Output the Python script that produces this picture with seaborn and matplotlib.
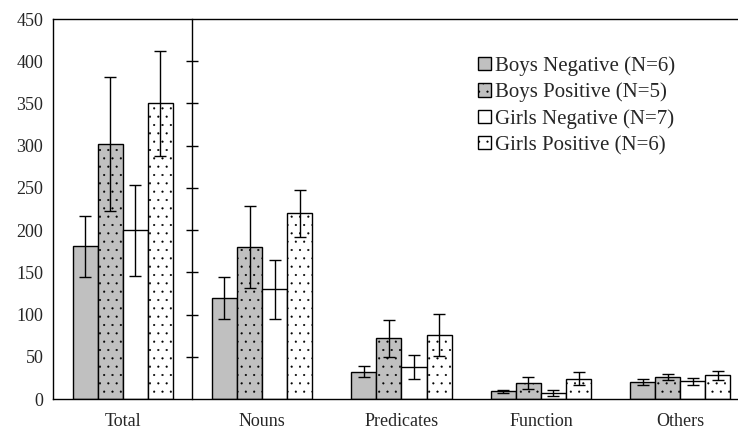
import numpy as np
import pandas as pd
import matplotlib
matplotlib.use('Agg')
import matplotlib.pyplot as plt
from matplotlib.patches import Patch
import seaborn as sns

# categories on the x axis and the four groups
categories = ['Total', 'Nouns', 'Predicates', 'Function', 'Others']
groups = ['Boys Negative (N=6)', 'Boys Positive (N=5)',
          'Girls Negative (N=7)', 'Girls Positive (N=6)']

# mean values
boys_neg = [181, 120, 32, 9, 20]
boys_pos = [302, 180, 72, 19, 26.5]
girls_neg = [200, 130, 38, 7, 21]
girls_pos = [350, 220, 76, 24, 28]

# error bar half-lengths
boys_neg_err = [36, 25, 6.5, 1.5, 4]
boys_pos_err = [79, 48, 22, 7, 3.5]
girls_neg_err = [54, 35, 14, 3.5, 4]
girls_pos_err = [62, 28, 25, 8, 5]

yticks = [0, 50, 100, 150, 200, 250, 300, 350, 400, 450]

values = [boys_neg, boys_pos, girls_neg, girls_pos]
errors = [boys_neg_err, boys_pos_err, girls_neg_err, girls_pos_err]

rows = []
for g, vals in zip(groups, values):
    for c, v in zip(categories, vals):
        rows.append({'category': c, 'group': g, 'value': v})
df = pd.DataFrame(rows)

sns.set_theme(style='white')
plt.rcParams['font.family'] = ['Liberation Serif', 'DejaVu Serif']
plt.rcParams['hatch.color'] = 'black'
plt.rcParams['hatch.linewidth'] = 0.3

fills = ['#c0c0c0', '#c0c0c0', 'white', 'white']
hatches = ['', '..', '', '..']

fig = plt.figure(figsize=(7.38, 4.30), dpi=100)
ax = fig.add_axes([53/738, 31/430, 697/738, 380/430])

sns.barplot(data=df, x='category', y='value', hue='group', order=categories,
            hue_order=groups, palette=fills, saturation=1, edgecolor='black',
            linewidth=1.0, width=0.72, errorbar=None, legend=False, ax=ax)

bar_containers = list(ax.containers)
for cont, h in zip(bar_containers, hatches):
    for p in cont:
        p.set_hatch(h)

for cont, vals, errs in zip(bar_containers, values, errors):
    xs = [p.get_x() + p.get_width() / 2 for p in cont]
    ax.errorbar(xs, vals, yerr=errs, fmt='none', ecolor='black',
                elinewidth=1.0, capsize=4, capthick=1.0)

ax.set_xlim(-0.5, 4.5)
ax.set_ylim(0, 450)
ax.set_xlabel('')
ax.set_ylabel('')

ax.set_xticks(np.arange(-0.5, 5.0, 1.0))
ax.set_xticklabels([])
ax.set_xticks(range(len(categories)), minor=True)
ax.set_xticklabels(categories, minor=True, fontsize=13)
ax.tick_params(axis='x', which='major', direction='out', length=4, width=1,
               color='black')
ax.tick_params(axis='x', which='minor', length=0, pad=10)

ax.set_yticks(yticks)
ax.set_yticklabels([str(t) for t in yticks], fontsize=13)
ax.tick_params(axis='y', length=0, pad=7)

for s in ax.spines.values():
    s.set_color('black')
    s.set_linewidth(1.0)

# divider between Total and the word classes, ticks on both sides
sec = ax.secondary_yaxis(0.2)
sec.set_yticks(yticks[1:-1])
sec.tick_params(direction='inout', length=8, width=1, color='black',
                labelleft=False, labelright=False)
for s in sec.spines.values():
    s.set_color('black')
    s.set_linewidth(1.0)

handles = [Patch(facecolor=f, edgecolor='black', hatch=h, linewidth=1.0)
           for f, h in zip(fills, hatches)]
ax.legend(handles=handles, labels=groups, loc='upper left',
          bbox_to_anchor=(478/738, 1 - 56/430), bbox_transform=fig.transFigure,
          frameon=False, fontsize=15, handlelength=0.6, handleheight=0.6,
          handletextpad=0.2, labelspacing=0.33, borderpad=0, borderaxespad=0)

fig.savefig('out.png', dpi=100)
